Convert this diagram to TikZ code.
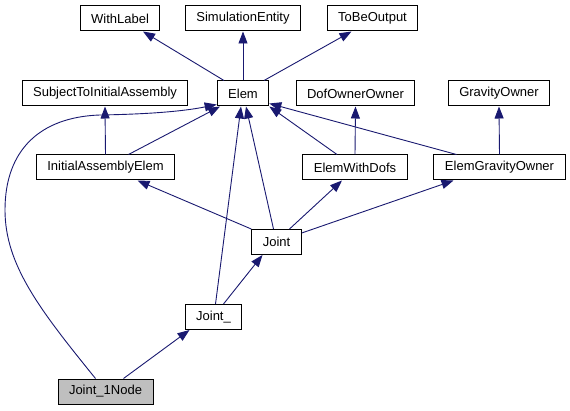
\documentclass[tikz,border=0pt]{standalone}
\usepackage{fontspec}
\setmainfont{Liberation Sans}
\usetikzlibrary{arrows.meta}
\definecolor{midnightblue}{HTML}{191970}

\begin{document}
\begin{tikzpicture}[x=1pt, y=-1pt,
    every node/.style={font=\fontsize{13}{15}\selectfont},
    class/.style={draw=black, line width=1pt, rectangle, anchor=center,
      minimum height=25pt, inner xsep=11pt, inner ysep=0pt},
    current/.style={class, fill=black!25},
    edge/.style={draw=midnightblue, line width=0.9pt,
      -{Triangle[length=12pt, width=9pt]}}]
      \useasboundingbox (0,0) rectangle (570,411);
      % base classes
      \node[class] (withlabel) at (120, 18.5) {WithLabel};
      \node[class] (simulationentity) at (243, 18.5) {SimulationEntity};
      \node[class] (tobeoutput) at (372.5, 18.5) {ToBeOutput};
      \node[class] (subject) at (105, 93.5) {SubjectToInitialAssembly};
      \node[class] (elem) at (243, 93.5) {Elem};
      \node[class] (dofownerowner) at (355.5, 93.5) {DofOwnerOwner};
      \node[class] (gravityowner) at (499, 93.5) {GravityOwner};
      % derived classes
      \node[class] (initialassemblyelem) at (105.5, 167.5) {InitialAssemblyElem};
      \node[class] (elemwithdofs) at (355, 167.5) {ElemWithDofs};
      \node[class] (elemgravityowner) at (499.5, 167.5) {ElemGravityOwner};
      \node[class] (joint) at (276.5, 242) {Joint};
      \node[class] (joint_) at (213.5, 317) {Joint\_};
      \node[current] (joint1node) at (105.5, 391.5) {Joint\_1Node};
      % inheritance
      \draw[edge] ([xshift=-19pt]elem.north) -- ([xshift=23pt]withlabel.south);
      \draw[edge] (elem.north) -- (simulationentity.south);
      \draw[edge] ([xshift=21pt]elem.north) -- ([xshift=-21pt]tobeoutput.south);
      \draw[edge] ([xshift=23pt]initialassemblyelem.north) -- ([xshift=-23pt]elem.south);
      \draw[edge] (initialassemblyelem.north) -- (subject.south);
      \draw[edge] ([xshift=-18pt]elemwithdofs.north) -- (elem.south east);
      \draw[edge] (elemwithdofs.north) -- (dofownerowner.south);
      \draw[edge] ([xshift=-43pt]elemgravityowner.north) -- ([yshift=3pt]elem.south east);
      \draw[edge] (elemgravityowner.north) -- (gravityowner.south);
      \draw[edge] (joint.north west) -- ([xshift=32pt]initialassemblyelem.south);
      \draw[edge] ([xshift=-3pt]joint.north) -- ([xshift=3pt]elem.south);
      \draw[edge] ([xshift=13pt]joint.north) -- ([xshift=-13pt]elemwithdofs.south);
      \draw[edge] ([yshift=-4pt]joint.north east) -- ([xshift=-46pt]elemgravityowner.south);
      \draw[edge] ([xshift=2pt]joint_.north) -- ([xshift=-2pt]elem.south);
      \draw[edge] ([xshift=10pt]joint_.north) -- ([xshift=-14pt]joint.south);
      \draw[edge] ([xshift=18pt]joint1node.north) -- ([xshift=-24pt]joint_.south);
      \draw[edge] ([xshift=-10pt]joint1node.north)
        .. controls (40,310) and (5,265) .. (5,210)
        .. controls (5,150) and (40,117) .. (100,115)
        .. controls (160,114) and (190,110) .. ([yshift=2pt]elem.south west);
    \end{tikzpicture}
\end{document}
